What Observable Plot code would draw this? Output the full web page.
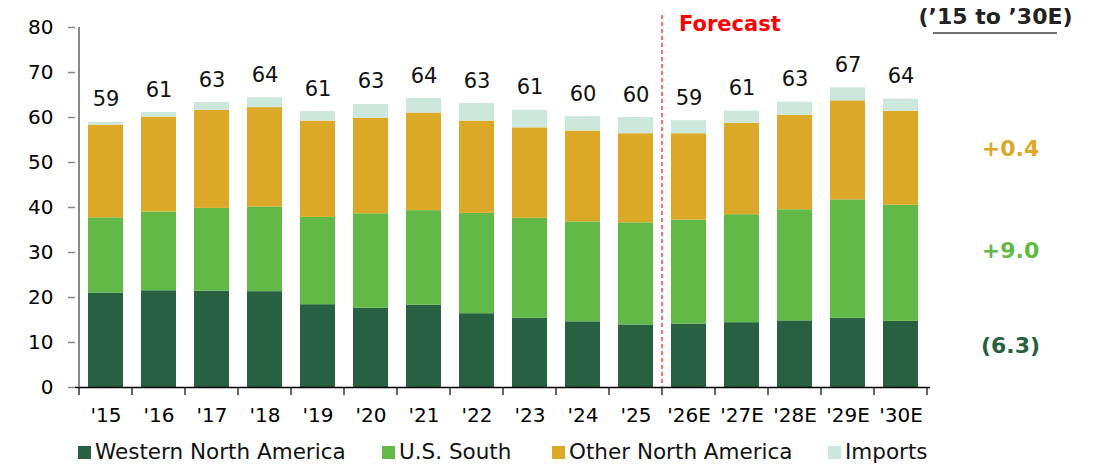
<!DOCTYPE html>
<html>
<head>
<meta charset="utf-8">
<script src="https://cdn.jsdelivr.net/npm/d3@7"></script>
<script src="https://cdn.jsdelivr.net/npm/@observablehq/plot@0.6"></script>
<style>
  html, body { margin: 0; padding: 0; background: #fff; }
  body { width: 1094px; height: 466px; overflow: hidden; font-family: "DejaVu Sans", Verdana, sans-serif; }
  #legend { position: relative; height: 36px; width: 1094px; }
  .item { position: absolute; top: 0; font-size: 21.5px; color: #111; white-space: nowrap; }
  .sw { position: absolute; width: 13px; height: 13px; top: 16px; }
  .lb { position: absolute; top: 9px; line-height: 26px; }
</style>
</head>
<body>
<div id="chart"></div>
<div id="legend"></div>
<script>
// ---- data ----
const years = ["'15","'16","'17","'18","'19","'20","'21","'22","'23","'24","'25","'26E","'27E","'28E","'29E","'30E"];
const westernNorthAmerica = [21.0, 21.5, 21.4, 21.3, 18.4, 17.6, 18.3, 16.4, 15.4, 14.6, 13.9, 14.1, 14.4, 14.8, 15.4, 14.7];
const usSouth             = [16.7, 17.5, 18.4, 18.8, 19.4, 21.0, 21.0, 22.3, 22.2, 22.2, 22.7, 23.1, 24.0, 24.7, 26.3, 25.8];
const otherNorthAmerica   = [20.6, 21.1, 21.8, 22.1, 21.4, 21.2, 21.7, 20.5, 20.1, 20.2, 19.8, 19.2, 20.3, 21.0, 22.0, 20.9];
const imports             = [0.6, 1.0, 1.7, 2.2, 2.1, 3.1, 3.2, 3.9, 3.9, 3.2, 3.6, 2.9, 2.7, 2.9, 2.9, 2.7];
const totalLabels = [59, 61, 63, 64, 61, 63, 64, 63, 61, 60, 60, 59, 61, 63, 67, 64];
const seriesNames = ["Western North America", "U.S. South", "Other North America", "Imports"];
const seriesColors = ["#286042", "#62b947", "#dba927", "#cce7db"];
const changeLabels = ["+0.4", "+9.0", "(6.3)"];
const changeColors = ["#dba927", "#62b947", "#286042"];
const changeHeader = "(\u201915 to \u201930E)";
const forecastStart = "'26E";
const yTicks = [0, 10, 20, 30, 40, 50, 60, 70, 80];

// ---- build table ----
const seriesValues = [westernNorthAmerica, usSouth, otherNorthAmerica, imports];
const rows = [];
years.forEach((yr, i) => {
  seriesNames.forEach((s, k) => rows.push({year: yr, series: s, value: seriesValues[k][i]}));
});
const totals = years.map((yr, i) => ({
  year: yr,
  total: seriesValues.reduce((a, arr) => a + arr[i], 0),
  label: totalLabels[i]
}));
// layout (y positions in data units for right-side annotations)
const changeY = [53.1, 30.4, 9.2];
const changes = changeLabels.map((t, i) => ({text: t, color: changeColors[i], y: changeY[i]}));

const font = "DejaVu Sans, Verdana, sans-serif";
const plot = Plot.plot({
  width: 1094,
  height: 430,
  marginTop: 27,
  marginBottom: 43,
  marginLeft: 75,
  marginRight: 164,
  style: {fontFamily: font, fontSize: "20px", color: "#000", background: "#fff", overflow: "visible"},
  x: {domain: years, padding: 0, tickSize: 0, tickPadding: 20, label: null},
  y: {domain: [0, 80], ticks: yTicks, tickSize: 7, tickPadding: 15, label: null},
  color: {domain: seriesNames, range: seriesColors},
  marks: [
    Plot.barY(rows, {x: "year", y: "value", fill: "series", insetLeft: 9, insetRight: 9}),
    Plot.ruleY([0], {stroke: "#000", strokeWidth: 1.5}),
    Plot.text(totals, {x: "year", y: "total", text: d => String(d.label), lineAnchor: "bottom", dy: -16, fontSize: 21, fill: "#111"}),
    Plot.text(["Forecast"], {x: () => forecastStart, frameAnchor: "top", textAnchor: "start", lineAnchor: "bottom", dx: -10, dy: 3, fill: "#ff0000", fontWeight: "bold", fontSize: 21}),
    Plot.text(changes, {y: "y", text: "text", fill: d => d.color, frameAnchor: "right", textAnchor: "middle", dx: 80, fontWeight: "bold", fontSize: 22}),
    Plot.text([changeHeader], {frameAnchor: "top-right", textAnchor: "middle", lineAnchor: "bottom", dx: 65, dy: -4, fontWeight: "bold", fontSize: 22, fill: "#222"})
  ]
});
document.getElementById("chart").appendChild(plot);

// ---- post-processing: axis styling, band-boundary ticks, forecast divider, underline ----
const svg = d3.select(plot);
const xs = plot.scale("x");
const ys = plot.scale("y");
const y0 = ys.apply(0), yTop = ys.apply(80);
const bw = xs.bandwidth;
svg.selectAll('[aria-label="y-axis tick"]').attr("stroke", "#888").attr("stroke-width", 1.5);
const x0 = xs.apply(years[0]);
const g = svg.append("g");
g.append("line").attr("x1", x0).attr("x2", x0).attr("y1", yTop).attr("y2", y0)
  .attr("stroke", "#888").attr("stroke-width", 2);
years.forEach(yr => {
  const px = xs.apply(yr);
  g.append("line").attr("x1", px).attr("x2", px).attr("y1", y0).attr("y2", y0 + 8).attr("stroke", "#000").attr("stroke-width", 1.2);
});
const xEnd = xs.apply(years[years.length - 1]) + bw;
g.append("line").attr("x1", xEnd).attr("x2", xEnd).attr("y1", y0).attr("y2", y0 + 8).attr("stroke", "#000").attr("stroke-width", 1.2);
const xf = xs.apply(forecastStart);
g.append("line").attr("x1", xf).attr("x2", xf).attr("y1", 15).attr("y2", y0)
  .attr("stroke", "#ff4040").attr("stroke-width", 1.5).attr("stroke-dasharray", "4,3");
g.append("line").attr("x1", xEnd + 6).attr("x2", xEnd + 130).attr("y1", 33).attr("y2", 33)
  .attr("stroke", "#444").attr("stroke-width", 1.5);

// ---- legend ----
const legendLeft = [78, 382, 552, 828];
const legend = document.getElementById("legend");
seriesNames.forEach((s, i) => {
  const it = document.createElement("div");
  it.className = "item";
  it.style.left = legendLeft[i] + "px";
  it.innerHTML = `<div class="sw" style="background:${seriesColors[i]};left:0"></div><div class="lb" style="left:17px">${s}</div>`;
  legend.appendChild(it);
});
</script>
</body>
</html>
